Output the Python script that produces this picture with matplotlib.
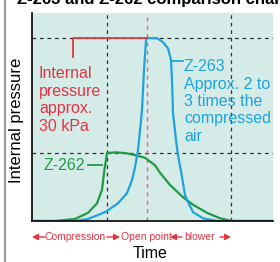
"""Z-263 vs Z-262 internal pressure comparison sketch."""

import matplotlib

matplotlib.use('Agg')
import matplotlib.pyplot as plt
from matplotlib import font_manager

# time axis (arbitrary units) and internal pressure (Z-262 plateau = 1)
blue_t = [0, 4.3, 5.6, 7.3, 8.6, 9.5, 10.0, 10.3, 10.6, 11.0, 11.2, 11.4, 11.5, 12.5, 13.1,
          13.6, 13.9, 14.0, 14.1, 14.4, 14.6, 15.0, 15.3, 15.6, 16.1, 17.1, 18.5, 24.1]
blue_p = [0, 0, 0.03, 0.13, 0.26, 0.41, 0.60, 0.79, 1.04, 1.63, 2.22, 2.66, 2.69, 2.69, 2.63,
          2.54, 2.37, 2.07, 1.59, 1.19, 0.97, 0.65, 0.38, 0.28, 0.13, 0.04, 0, 0]
green_t = [0, 2.3, 4.3, 5.6, 6.5, 7.0, 7.2, 7.4, 7.5, 8.3, 9.3, 10.3, 11.3, 12.3, 12.8, 13.8,
           15.1, 16.1, 17.5, 18.8, 20.0, 24.1]
green_p = [0, 0, 0.03, 0.12, 0.26, 0.46, 0.71, 0.90, 1.0, 1.01, 1.0, 0.97, 0.93, 0.82, 0.71,
           0.53, 0.35, 0.24, 0.12, 0.04, 0, 0]

compression_end = 7.5
open_point = 11.5
blower_end = 19.9
level_262 = 1.0
level_263 = 2.69

BLUE = '#1ea3dd'
GREEN = '#1f9a45'
RED = '#e5343f'
BG = '#d5ebe8'
W, H = 280, 262

plt.rcParams['font.family'] = ['Liberation Sans', 'DejaVu Sans']
installed = {f.name for f in font_manager.fontManager.ttflist}
if 'Liberation Sans Narrow' in installed:
    narrow, narrow_size = ['Liberation Sans Narrow', 'DejaVu Sans'], 9
else:
    narrow, narrow_size = ['Liberation Sans', 'DejaVu Sans'], 7.5


def fp(x, y):
    return x / W, 1 - y / H


fig = plt.figure(figsize=(2.8, 2.62), dpi=100)
ax = fig.add_axes([32 / W, 1 - 221 / H, 241 / W, 208 / H])
ax.set_facecolor(BG)
ax.set_xlim(0, 24.1)
ax.set_ylim(0, 3.06)
for s in ('top', 'right'):
    ax.spines[s].set_visible(False)
for s in ('left', 'bottom'):
    ax.spines[s].set_linewidth(1.2)
ax.set_xticks([])
ax.set_yticks([])

dash = dict(color='#333333', lw=0.9, ls=(0, (3, 3)))
ax.axhline(level_263, **dash)
ax.axhline(level_262, **dash)
ax.axvline(compression_end, **dash)
ax.axvline(blower_end, **dash)
ax.axvline(open_point, color='#e86670', lw=1.0, ls=(0, (3, 3)))

ax.plot(green_t, green_p, color=GREEN, lw=1.6, solid_joinstyle='round')
ax.plot(blue_t, blue_p, color=BLUE, lw=1.6, solid_joinstyle='round')

# red leader for the 30 kPa note
ax.plot([4.1, 4.1, open_point], [2.41, level_263, level_263], color=RED, lw=1.3)
fig.text(*fp(39, 100), 'Internal\npressure\napprox.\n30 kPa', color=RED, fontsize=11.5,
         ha='left', va='center', linespacing=1.2)

# Z-263 note
ax.plot([14.0, 15.1], [2.35, 2.35], color=BLUE, lw=1.3)
fig.text(*fp(184, 101.5), 'Z-263\nApprox. 2 to\n3 times the\ncompressed\nair', color=BLUE,
         fontsize=11.5, ha='left', va='center', linespacing=1.2)

# Z-262 note
ax.plot([5.6, 7.0], [0.82, 0.82], color=GREEN, lw=1.3)
fig.text(*fp(43, 165), 'Z-262', color=GREEN, fontsize=11.5, ha='left', va='center')

fig.text(*fp(17, 120), 'Internal pressure', fontsize=12, rotation=90,
         ha='center', va='center')
fig.text(*fp(150, 253), 'Time', fontsize=11.5, ha='center', va='center')

# phase labels under the axis
for cx, lab in ((75, 'Compression'), (146, 'Open point'), (200, 'blower')):
    fig.text(*fp(cx, 237), lab, color=RED, fontsize=narrow_size, ha='center', va='center',
             family=narrow)
for x0, x1 in ((45, 32), (107, 120), (182, 170), (220, 231)):
    ax.annotate('', xy=fp(x1, 237), xytext=fp(x0, 237), xycoords='figure fraction',
                textcoords='figure fraction',
                arrowprops=dict(arrowstyle='-|>,head_length=0.35,head_width=0.18',
                                color=RED, lw=1.0, shrinkA=0, shrinkB=0))

# clipped title and left page rule
fig.text(*fp(17, 4), 'Z-263 and Z-262 comparison chart', fontsize=12, fontweight='bold',
         ha='left', va='baseline')
fig.add_artist(plt.Line2D([5 / W, 5 / W], [0, 1], color='#9a9a9a', lw=1.6,
                          transform=fig.transFigure))

fig.savefig('out.png', dpi=100)
